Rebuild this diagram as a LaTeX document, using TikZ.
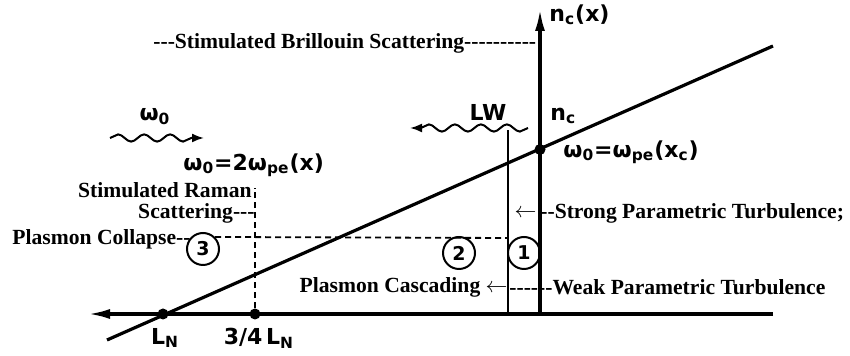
\documentclass[tikz,border=0pt]{standalone}
\usepackage{fontspec}
\setmainfont{Liberation Serif}
\newfontfamily\lettering{DejaVu Sans}
\usetikzlibrary{arrows.meta, decorations.pathmorphing}

\begin{document}
\begin{tikzpicture}[
    x=0.5pt, y=-0.5pt,
    note/.style={font=\fontsize{10.8}{12}\selectfont\bfseries, inner sep=0pt},
    hand/.style={font=\lettering\bfseries\fontsize{11}{13}\selectfont, inner sep=0pt},
    axis/.style={line width=1.6pt, -{Latex[length=11pt,width=5pt]}},
    curve/.style={line width=1.6pt},
    riser/.style={line width=1pt},
    guide/.style={line width=0.9pt, dash pattern=on 3pt off 2pt},
    spot/.style={circle, fill, inner sep=0pt, minimum size=5.5pt},
    region/.style={circle, draw, line width=1pt, minimum size=16pt, inner sep=0pt, font=\lettering\bfseries\fontsize{9.5}{10}\selectfont},
    wave/.style={line width=1pt, decorate, decoration={snake, amplitude=1.8pt, segment length=13pt, post length=5pt}, -{Latex[length=6pt,width=4.5pt]}},
]
    \useasboundingbox (0,0) rectangle (850,356);

    \coordinate (O) at (540,314);
    \coordinate (xtip) at (88,314);
    \coordinate (xend) at (773,314);
    \coordinate (ytip) at (540,9);
    \coordinate (lo) at (107,340);
    \coordinate (hi) at (773,46);
    \coordinate (lwroot) at (508,130);
    \coordinate (lwfoot) at (508,314);
    \coordinate (ramtop) at (255,188);
    \coordinate (dashend) at (508,238);

    \draw[axis] (xend) -- (xtip);
    \draw[axis] (O) -- (ytip);
    \draw[curve] (lo) -- (hi);
    \draw[riser] (lwfoot) -- (lwroot);

    \node[spot] (LN) at (163,314) {};
    \node[spot] (L34) at (255,314) {};
    \node[spot] (xc) at (540,149.5) {};

    \node[region] (c3) at (203,249) {3};
    \node[region] (c2) at (459,253) {2};
    \node[region] (c1) at (524,253) {1};

    \draw[guide] (L34) -- (ramtop);
    \draw[guide] (c3.north east) -- (dashend);

    \coordinate (w0a) at (110,138);
    \coordinate (w0b) at (204,138);
    \coordinate (lwa) at (528,128);
    \coordinate (lwb) at (410,128);
    \draw[wave] (w0a) -- (w0b);
    \draw[wave] (lwa) -- (lwb);

    \node[note, anchor=west] (sbs) at (153,43) {-{}-{}-Stimulated Brillouin Scattering-{}-{}-{}-{}-{}-{}-{}-{}-{}-};
    \node[note, anchor=east] (srs1) at (252,190) {Stimulated Raman};
    \node[note, anchor=east] (srs2) at (255,213) {Scattering-{}-{}-};
    \node[note, anchor=west] (coll) at (12,239) {Plasmon Collapse-{}-};
    \node[note, anchor=east] (casc) at (508,287) {Plasmon Cascading $\leftarrow$};
    \node[note, anchor=west] (weak) at (509,287) {-{}-{}-{}-{}-{}-Weak Parametric Turbulence};
    \node[note, anchor=east] (sarrow) at (537,213) {$\leftarrow$};
    \node[note, anchor=west] (strong) at (540,213) {-{}-Strong Parametric Turbulence;};

    \node[hand] (w0) at (155,117) {ω\textsubscript{0}};
    \node[hand, anchor=west] (res2) at (183,165) {ω\textsubscript{0}=2ω\textsubscript{pe}(x)};
    \node[hand] (lw) at (488,112) {LW};
    \node[hand, anchor=west] (nc) at (550,116) {n\textsubscript{c}};
    \node[hand, anchor=west] (ncx) at (549,15) {n\textsubscript{c}(x)};
    \node[hand, anchor=west] (res1) at (563,152) {ω\textsubscript{0}=ω\textsubscript{pe}(x\textsubscript{c})};
    \node[hand] (lnlab) at (165,338) {L\textsubscript{N}};
    \node[hand] (l34lab) at (259,338) {3/4\,L\textsubscript{N}};
\end{tikzpicture}
\end{document}
